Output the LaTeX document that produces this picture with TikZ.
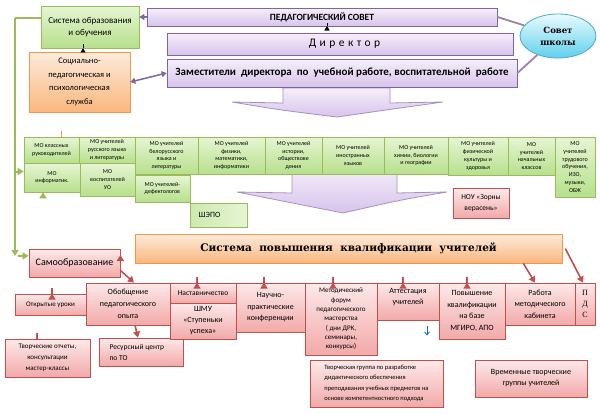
\documentclass[tikz,border=0pt]{standalone}
\usepackage{fontspec}
\setmainfont{Carlito}
\newfontfamily\bserif{DejaVu Serif}
\newfontfamily\tserif{Liberation Serif}
\usetikzlibrary{arrows.meta,calc,shapes.geometric}
\pgfdeclarelayer{background}
\pgfsetlayers{background,main}
\newcommand\myfs[2]{\fontsize{#1}{#2}\selectfont}
\definecolor{gTop}{HTML}{E6F5D3}\definecolor{gBot}{HTML}{B7E08C}\definecolor{gBd}{HTML}{9BBB59}
\definecolor{pTop}{HTML}{FDE9E9}\definecolor{pBot}{HTML}{F2A9A9}\definecolor{pBd}{HTML}{C0504D}
\definecolor{oTop}{HTML}{FDEBDB}\definecolor{oBot}{HTML}{FAB77E}\definecolor{oBd}{HTML}{F79646}
\definecolor{vTop}{HTML}{F6EFFB}\definecolor{vBot}{HTML}{D7C4EB}\definecolor{vBd}{HTML}{8064A2}
\definecolor{cTop}{HTML}{EAFBFF}\definecolor{cBot}{HTML}{5FD0EC}\definecolor{cBd}{HTML}{4BACC6}
\definecolor{lineG}{HTML}{9BBB59}
\newcommand\bx[8][]{\node[#3,minimum width={(#6-#4)*1pt},minimum height={(#7-#5)*1pt},#1] (#2) at ({(#4+#6)/2},{(#5+#7)/2}) {#8};}
\tikzset{
  base/.style={draw,rectangle,inner sep=1pt,align=center,line width=0.6pt},
  greenbox/.style={base,draw=gBd,top color=gTop,bottom color=gBot},
  shepobox/.style={base,draw=gBd,left color=gBot!70,right color=gTop,line width=0.8pt},
  pinkbox/.style={base,draw=pBd,top color=pTop,bottom color=pBot,line width=0.8pt},
  orangebox/.style={base,draw=oBd,top color=oTop,bottom color=oBot},
  purplebox/.style={base,draw=vBd,top color=vTop,bottom color=vBot,line width=0.8pt},
  mo/.style={greenbox,font=\myfs{6}{7.8}},
  redarrow/.style={draw=pBd,line width=1.6pt,-{Triangle[length=6pt,width=7pt]}},
  greenline/.style={draw=lineG,line width=2pt},
  greenarrow/.style={greenline,-{Triangle[length=6pt,width=7pt]}},
  blackarrow/.style={draw=black,line width=0.6pt,-{Triangle[length=4pt,width=5pt]}},
  bigarrow/.style={draw=vBd!70,line width=0.8pt,top color=vTop,bottom color=vBot},
  lefttext/.style={align=left,inner xsep=5pt}
}
\begin{document}
\begin{tikzpicture}[x=1pt,y=-1pt]
\useasboundingbox (0,0) rectangle (600,413);
\begin{pgfonlayer}{background}
\fill[white] (0,0) rectangle (600,413);
\end{pgfonlayer}
% top section
\bx{sys}{greenbox,font=\myfs{9}{12}}{41}{6}{139}{48}{Система образования\\и обучения}
\bx{soc}{orangebox,font=\myfs{8.5}{13.5}}{29}{52}{130}{112}{Социально-\\педагогическая и\\психологическая\\служба}
\bx{ped}{purplebox,font=\myfs{9.5}{11}\bfseries}{147}{8}{497}{26}{ПЕДАГОГИЧЕСКИЙ СОВЕТ}
\bx{dir}{purplebox,font=\myfs{11.5}{14}}{167}{33}{513}{55}{\hspace*{9pt}{\addfontfeature{LetterSpace=30}Директор}}
\bx{zam}{purplebox,font=\myfs{11}{12}\bfseries}{167}{59}{517}{87}{Заместители\ \ директора\ \ по\ \ учебной работе, воспитательной\ \ работе}
\node[ellipse,draw=cBd,line width=0.8pt,inner sep=0pt,top color=cTop,bottom color=cBot,minimum width=76pt,minimum height=44pt,align=center,font=\bserif\bfseries\myfs{8.5}{12}] (sov) at (558,36) {Совет\\школы};
% MO row
\bx{ma}{mo}{24}{137}{79}{163}{МО классных\\руководителей}
\bx{mb}{mo}{24}{163}{80}{192}{МО\\информатик.}
\bx{mc}{mo}{79}{137}{135}{163}{МО учителей\\русского языка\\и литературы}
\bx{md}{mo}{80}{163}{135}{196}{МО\\воспитателей\\УО}
\bx{mf}{mo,lefttext}{135}{175}{190}{202}{МО учителей-\\дефектологов}
\bx{me}{mo}{135}{137}{198}{174}{МО учителей\\белорусского\\языка и\\литературы}
\bx{mg}{mo}{198}{137}{265}{174}{МО учителей\\физики,\\математики,\\информатики}
\bx{mh}{mo}{265}{137}{322}{174}{МО учителей\\истории,\\обществове\\дения}
\bx{mi}{mo}{322}{137}{384}{174}{МО учителей\\иностранных\\языков}
\bx{mj}{mo}{384}{137}{448}{174}{МО учителей\\химии, биологии\\и географии}
\bx{mk}{mo}{448}{137}{508}{175}{МО учителей\\физической\\культуры и\\здоровья}
\bx{ml}{mo}{508}{137}{555}{175}{МО\\учителей\\начальных\\классов}
\bx{mm}{mo}{555}{137}{595}{197}{МО\\учителей\\трудового\\обучения,\\ИЗО,\\музыки,\\ОБЖ}
\bx{shepo}{shepobox,font=\myfs{8}{10},lefttext}{190}{203}{247}{227}{ШЭПО\hspace*{18pt}}
\bx{nou}{pinkbox,font=\myfs{7.5}{11}}{453}{188}{509}{218}{НОУ «Зорны\\верасень»}
% lower section
\bx{spk}{orangebox,font=\bserif\bfseries\myfs{10.5}{12}}{135}{234}{562}{263}{Система\ \ повышения\ \ квалификации\ \ учителей}
\bx{samo}{pinkbox,font=\myfs{10}{12}}{29}{249}{120}{277}{Самообразование}
\bx{open}{pinkbox,font=\myfs{7}{9}}{15}{294}{86}{315}{Открытые уроки}
\bx{obob}{pinkbox,font=\myfs{8}{12}}{86}{283}{170}{325}{Обобщение\\педагогического\\опыта}
\bx{tvor}{pinkbox,font=\myfs{7}{11}}{5}{339}{90}{377}{Творческие отчеты,\\консультации\\мастер-классы}
\bx{res}{pinkbox,font=\myfs{7.5}{11},lefttext}{99}{338}{183}{366}{Ресурсный центр\\по ТО\hspace*{45pt}}
\bx{nast}{pinkbox,font=\myfs{7.5}{10}}{170}{283}{236}{303}{Наставничество}
\bx{shmu}{pinkbox,font=\myfs{8}{11}}{170}{303}{236}{339}{ШМУ\\«Ступеньки\\успеха»}
\bx{nauch}{pinkbox,font=\myfs{8}{11.5}}{236}{283}{305}{332}{Научно-\\практические\\конференции}
\bx{metod}{pinkbox,font=\myfs{7}{9.3}}{305}{283}{377}{355}{Методический\\форум\\педагогического\\мастерства\\( дни ДРК,\\семинары,\\конкурсы)}
\bx{att}{pinkbox,font=\myfs{8}{11}}{377}{283}{439}{320}{Аттестация\\учителей\\~}
\bx{pov}{pinkbox,font=\myfs{8}{11.5}}{439}{283}{505}{339}{Повышение\\квалификации\\на базе\\МГИРО, АПО}
\bx{rab}{pinkbox,font=\myfs{8}{11.5}}{505}{283}{575}{325}{Работа\\методического\\кабинета}
\bx{pds}{pinkbox,font=\tserif\myfs{8}{11}}{575}{283}{595}{325}{П\\Д\\С}
\bx{tgr}{pinkbox,font=\myfs{6.5}{10.5},lefttext}{310}{360}{443}{407}{Творческая группа по разработке\\дидактического обеспечения\\преподавания учебных предметов на\\основе компетентностного подхода}
\bx{vrem}{pinkbox,font=\myfs{8}{11}}{475}{360}{587}{397}{Временные творческие\\группы учителей}
% background: big arrows and connectors
\begin{pgfonlayer}{background}
\path[bigarrow] (283,88) -- (390,88) -- (390,103) -- (443,102) .. controls (400,108) .. (337,117) .. controls (280,110) .. (232,102) -- (283,103) -- cycle;
\path[bigarrow] (292,165) -- (397,165) -- (397,193) -- (447,192) .. controls (400,200) .. (343,213) .. controls (290,203) .. (237,192) -- (292,193) -- cycle;
% green lines
\coordinate (gc) at (15,18);
\coordinate (gend) at (15,256);
\draw[greenline] ($(sys.west)+(0,-9)$) -- (gc);
\draw[greenarrow] (gc) -- (gend);
\draw[greenarrow] ($(gc|-mb.west)+(0,-6)$) -- ($(mb.west)+(0,-6)$);
\draw[greenarrow] ($(gend)+(3,0)$) -- ($(samo.north west)!0.25!(samo.south west)$);
\draw[greenarrow] ($(mb.south)+(-9,0)$) -- ($(mb.south)+(-9,0)$ |- samo.north);
% orange arrow
\draw[draw=oBd,line width=1.5pt,-{Triangle[length=6pt,width=7pt]}] ($(ma.north)+(10,0)$ |- soc.south) -- ($(ma.north)+(10,0)$);
% red line through open lessons
\draw[redarrow] ($(tvor.north)+(-10.5,0)$ |- samo.south) -- ($(tvor.north)+(-10.5,0)$);
\end{pgfonlayer}
% top connectors
\draw[draw=vBd,line width=1.2pt,-{Triangle[length=5pt,width=6pt]}] (ped.west) -- (ped.west -| sys.east);
\draw[draw=vBd,line width=1.5pt,{Triangle[length=5pt,width=6pt]}-{Triangle[length=5pt,width=6pt]}] (soc.east) -- (zam.west);
\draw[draw=vBd!80,line width=1.8pt] (ped.east) -- (sov);
\draw[draw=vBd!80,line width=1.8pt] (zam.east) -- (sov);
\draw[blackarrow] ($(ped.south)+(5,0)$) -- ($(ped.south)+(5,0)$ |- dir.north);
\draw[blackarrow] ($(ped.south)+(5,0)$ |- dir.south) -- ($(ped.south)+(5,0)$ |- zam.north);
\draw[blackarrow] ($(sys.south)+(-7,0)$) -- ($(sys.south)+(-7,0)$ |- soc.north);
% red connectors
\draw[redarrow] ($(samo.east)+(0,-8)$) -- ($(samo.east)+(0,-8)$ -| spk.west);
\draw[redarrow] ($(samo.south east)+(0,-7)$) -- ($(obob.north)+(6,0)$);
\draw[redarrow] ($(open.north)+(1.5,0)$ |- samo.south) -- ($(open.north)+(1.5,0)$);
\draw[redarrow] ($(obob.south)+(7,0)$) -- ($(res.north)+(-3,0)$);
\draw[redarrow] ($(nast.north)+(-6,0)$ |- spk.south) -- ($(nast.north)+(-6,0)$);
\draw[redarrow] ($(nauch.north)+(-6.5,0)$ |- spk.south) -- ($(nauch.north)+(-6.5,0)$);
\draw[redarrow] ($(metod.north)+(-8,0)$ |- spk.south) -- ($(metod.north)+(-8,0)$);
\draw[redarrow] ($(att.north)+(-5,0)$ |- spk.south) -- ($(att.north)+(-5,0)$);
\draw[redarrow] ($(pov.north)+(-5,0)$ |- spk.south) -- ($(pov.north)+(-5,0)$);
\draw[redarrow] ($(spk.south east)+(-39,0)$) -- ($(rab.north)+(-5,0)$);
\draw[redarrow] ($(spk.east)+(3,0)$) -- ($(pds.north)+(-2,0)$);
% blue lines
\draw[draw=blue!60!cyan,line width=0.6pt] ($(nast.north)+(14,0)$ |- spk.south) -- ($(nast.north)+(14,0)$);
\draw[draw=blue!60!cyan,line width=0.6pt] ($(att.north)+(19,0)$ |- spk.south) -- ($(att.north)+(19,0)$);
\coordinate (bs) at ($(att.south)+(19,6)$);
\draw[draw=blue!60!cyan,line width=0.8pt,-{Straight Barb[length=3pt,width=5pt]}] (bs) -- ++(0,9);
\end{tikzpicture}
\end{document}
